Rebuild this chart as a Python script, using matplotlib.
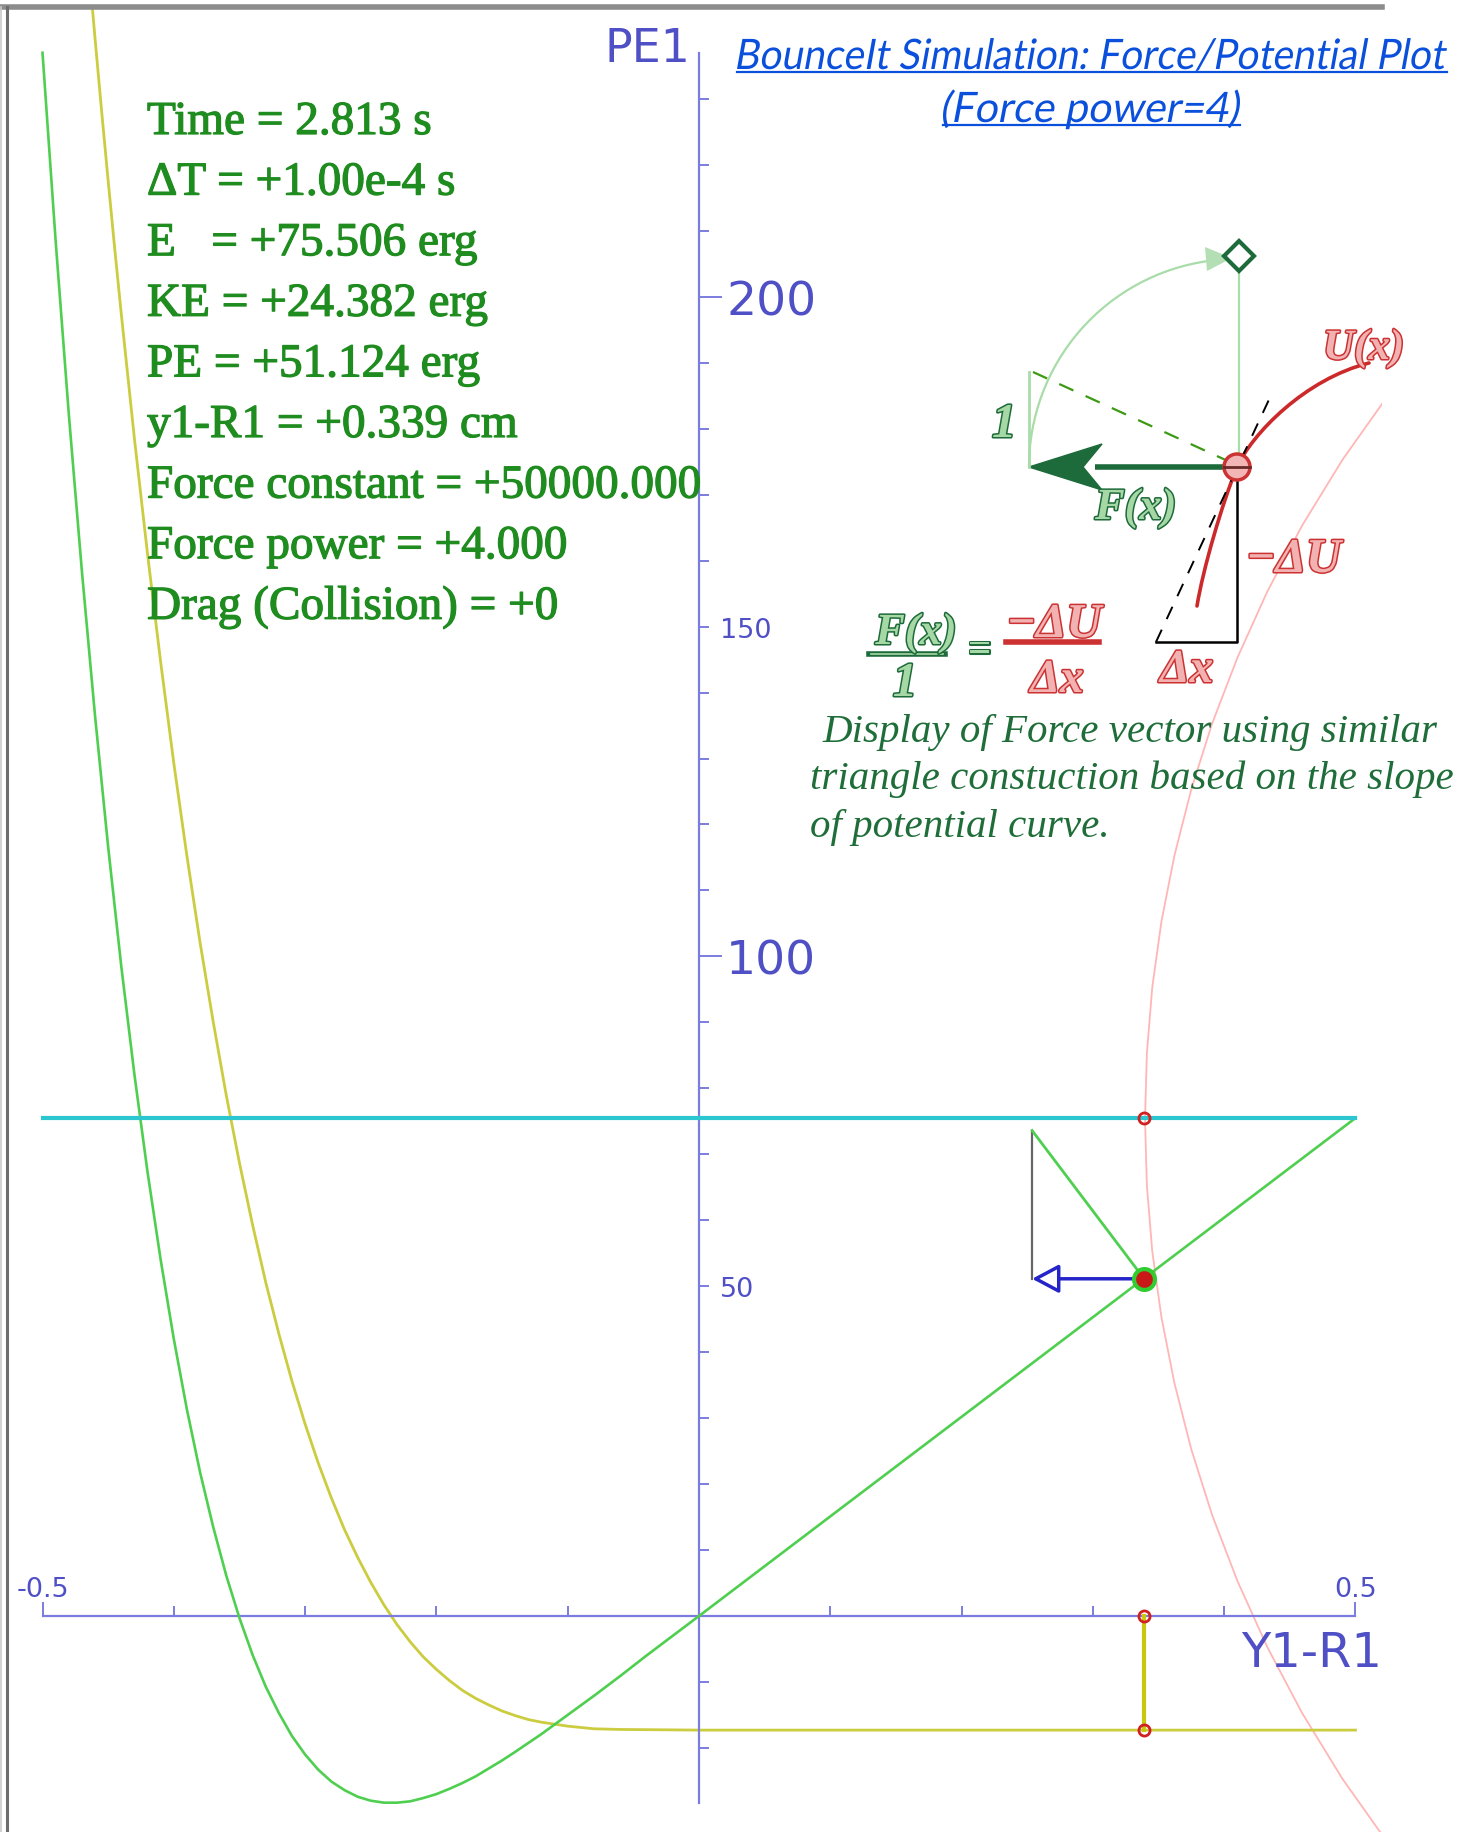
import matplotlib
matplotlib.use("Agg")
import matplotlib.pyplot as plt
import matplotlib.patheffects as pe
from matplotlib.patches import Arc, Polygon, Circle, PathPatch
from matplotlib.path import Path
from matplotlib.textpath import TextPath
from matplotlib.font_manager import FontProperties
from matplotlib.transforms import Affine2D
from matplotlib.ticker import FixedLocator, FuncFormatter

# BounceIt simulation: potential energy / force against Y1-R1

# potential energy PE1 (erg) vs Y1-R1 (cm)
pe_x = [-0.50, -0.49, -0.48, -0.47, -0.46, -0.45, -0.44, -0.43, -0.42, -0.41, -0.40,
        -0.39, -0.38, -0.37, -0.36, -0.35, -0.34, -0.33, -0.32, -0.31, -0.30,
        -0.29, -0.28, -0.27, -0.26, -0.25, -0.24, -0.23, -0.22, -0.21, -0.20,
        -0.19, -0.18, -0.17, -0.16, -0.15, -0.14, -0.12, -0.10, -0.08, -0.06,
        -0.04, -0.02, 0.0, 0.5]
pe_y = [237.0, 208.5, 182.3, 158.4, 136.5, 116.6, 98.5, 82.1, 67.3, 54.0, 42.0,
        31.3, 21.8, 13.5, 6.1, -0.3, -5.9, -10.7, -14.7, -18.2, -21.0,
        -23.3, -25.1, -26.4, -27.4, -28.0, -28.3, -28.3, -28.1, -27.6, -27.0,
        -26.2, -25.3, -24.3, -23.1, -21.9, -20.6, -17.9, -15.0, -12.1, -9.1,
        -6.0, -3.0, 0.0, 75.5]

# force curve (scaled onto the same axis)
force_x = [-0.47, -0.465, -0.46, -0.455, -0.45, -0.445, -0.44, -0.43, -0.42, -0.41, -0.40,
           -0.39, -0.38, -0.37, -0.36, -0.35, -0.34, -0.33, -0.32, -0.31, -0.30,
           -0.29, -0.28, -0.27, -0.26, -0.25, -0.24, -0.23, -0.22, -0.21, -0.20,
           -0.19, -0.18, -0.17, -0.16, -0.15, -0.14, -0.13, -0.12, -0.10, -0.08,
           -0.06, 0.0, 0.5]
force_y = [262.2, 250.5, 239.2, 228.2, 217.6, 207.3, 197.4, 178.5, 161.0, 144.6, 129.3,
           115.2, 102.1, 90.1, 78.9, 68.7, 59.3, 50.6, 42.8, 35.6, 29.1,
           23.2, 17.9, 13.1, 8.9, 5.1, 1.7, -1.3, -3.9, -6.2, -8.1,
           -9.8, -11.3, -12.5, -13.5, -14.4, -15.1, -15.7, -16.1, -16.7, -17.1,
           -17.2, -17.3, -17.3]

# outline of the ball
ball_x_pts = [0.5257, 0.4901, 0.4593, 0.4328, 0.4101, 0.3908, 0.3749, 0.3621, 0.3522,
              0.3452, 0.3411, 0.3397, 0.3411, 0.3452, 0.3522, 0.3621, 0.3749, 0.3908,
              0.4101, 0.4328, 0.4593, 0.4901, 0.5257]
ball_y_pts = [185.3, 175.3, 165.3, 155.3, 145.3, 135.3, 125.3, 115.3, 105.3,
              95.3, 85.3, 75.3, 65.3, 55.3, 45.3, 35.3, 25.3, 15.3,
              5.3, -4.7, -14.7, -24.7, -34.7]

# current state
energy = 75.506
ball_x = 0.339
ball_pe = 51.124
force_now = -17.3
arrow_tip_x = 0.2537
ref_top = 73.6

state_lines = ["Time = 2.813 s", "\u0394T = +1.00e-4 s", "E   = +75.506 erg",
               "KE = +24.382 erg", "PE = +51.124 erg", "y1-R1 = +0.339 cm",
               "Force constant = +50000.000", "Force power = +4.000",
               "Drag (Collision) = +0"]
title_lines = ["BounceIt Simulation: Force/Potential Plot", "(Force power=4)"]
caption_lines = ["Display of Force vector using similar",
                 "triangle constuction based on the slope",
                 "of potential curve."]

W, H = 1463, 1833
X0, Y0 = 699, 1617          # pixel position of the origin
SX, SY = 1313, 6.596        # pixels per unit
PX = 0.72                   # points per pixel at dpi 100

axis_col = "#7c7ce0"
lab_col = "#4f4fc6"

fig = plt.figure(figsize=(W / 100, H / 100), dpi=100)
fig.patch.set_facecolor("white")

# main data axes, clipped at the frame
ax = fig.add_axes([7 / W, 0, (1382 - 7) / W, (H - 8) / H])
ax.set_xlim((7 - X0) / SX, (1382 - X0) / SX)
ax.set_ylim((Y0 - H) / SY, (Y0 - 8) / SY)
ax.patch.set_alpha(0)

ax.spines["left"].set_visible(False)
ax.spines["bottom"].set_visible(False)
ax.spines["top"].set_position(("data", 0))
ax.spines["right"].set_position(("data", 0))
ax.spines["top"].set_bounds(-0.5, 0.5)
ax.spines["right"].set_bounds(-28.3, 237)
for s in ("top", "right"):
    ax.spines[s].set_color(axis_col)
    ax.spines[s].set_linewidth(1.6)
ax.xaxis.tick_top()
ax.yaxis.tick_right()

ax.set_xticks([-0.5, 0.5])
ax.set_xticklabels(["-0.5", "0.5"])
ax.xaxis.set_minor_locator(FixedLocator([-0.4, -0.3, -0.2, -0.1, 0.1, 0.2, 0.3, 0.4]))
ax.tick_params(axis="x", which="major", direction="out", length=14 * PX, width=1.4,
               color=axis_col, labelsize=19.5, labelcolor=lab_col, pad=0)
ax.tick_params(axis="x", which="minor", direction="out", length=10 * PX, width=1.4,
               color=axis_col)

ax.set_yticks([100, 200])
ax.yaxis.set_minor_locator(FixedLocator([v for v in range(-20, 240, 10) if v not in (100, 200)]))
ax.yaxis.set_minor_formatter(FuncFormatter(lambda v, p: "%d" % v if round(v) in (50, 150) else ""))
ax.tick_params(axis="y", which="major", direction="out", length=23 * PX, width=1.4,
               color=axis_col, labelsize=34, labelcolor=lab_col, pad=3)
ax.tick_params(axis="y", which="minor", direction="out", length=10 * PX, width=1.4,
               color=axis_col, labelsize=19.5, labelcolor=lab_col, pad=8)

# curves
ax.plot(ball_x_pts, ball_y_pts, color="#ffb6b6", lw=1.3, zorder=1)
ax.plot(force_x, force_y, color="#cccc40", lw=2.0, zorder=2)
ax.plot(pe_x, pe_y, color="#4fcf4f", lw=1.9, zorder=3)
ax.plot([-0.5, 0.5], [energy, energy], color="#2cc6d0", lw=3, zorder=3)

# force construction at the ball
ax.plot([ball_x, ball_x], [0, force_now], color="#c8c810", lw=3, zorder=4)
ax.plot([arrow_tip_x, arrow_tip_x], [ball_pe, ref_top], color="#666666", lw=1.6, zorder=4)
ax.plot([arrow_tip_x, ball_x], [ref_top, ball_pe], color="#4fcf4f", lw=2, zorder=4)
ax.annotate("", xy=(arrow_tip_x, ball_pe), xytext=(ball_x, ball_pe),
            arrowprops=dict(arrowstyle="-|>,head_length=0.75,head_width=0.4", ec="#2424c8",
                            fc="white", lw=2.5, shrinkA=0, shrinkB=0, mutation_scale=22),
            zorder=5)
ax.plot(ball_x, ball_pe, "o", ms=15, mfc="#c81818", mec="#30cc30", mew=3, zorder=6)
ax.plot([ball_x] * 3, [energy, 0, force_now], "o", ms=8, mfc="none", mec="#d02020",
        mew=2, zorder=6)

# overlay in pixel units for the text and the sketch
ov = fig.add_axes([0, 0, 1, 1])
ov.set_xlim(0, W)
ov.set_ylim(H, 0)
ov.axis("off")
ov.patch.set_alpha(0)

# frame
ov.plot([0, 1382], [8, 8], color="#8c8c8c", lw=4)
ov.plot([7, 7], [8, H], color="#6c6c6c", lw=2.2)
ov.plot([1, 1], [8, H], color="#c8c8c8", lw=1.2)

# axis names
ov.text(690, 62, "PE1", fontsize=33, color=lab_col, ha="right", va="baseline")
ov.text(1382, 1667, "Y1-R1", fontsize=34.5, color=lab_col, ha="right", va="baseline")

# state read-out
txt_col = "#1f8c1f"
for i, s in enumerate(state_lines):
    ov.text(147, 135 + i * 60.6, s, fontsize=34, family="Liberation Serif",
            color=txt_col, va="baseline",
            path_effects=[pe.Stroke(linewidth=0.9, foreground=txt_col), pe.Normal()])


# title: narrow slanted lettering fitted between left/right, then underlined
def narrow_title(s, left, right, base, em, color):
    tp = TextPath((0, 0), s, size=em, prop=FontProperties(family="Lato"))
    p = Affine2D().skew_deg(11, 0).transform_path(tp)
    ext = p.get_extents()
    sx = (right - left) / ext.width
    tr = Affine2D().translate(-ext.x0, 0).scale(sx, -1).translate(left, base)
    ov.add_patch(PathPatch(tr.transform_path(p), fc=color, ec="none"))
    ov.plot([left, right], [base + 3, base + 3], color=color, lw=1.6)


title_col = "#0a50dc"
narrow_title(title_lines[0], 737, 1447, 70, 42, title_col)
narrow_title(title_lines[1], 943, 1240, 123, 42, title_col)

# caption
for i, s in enumerate(caption_lines):
    ov.text(822 if i == 0 else 810, 742 + i * 47.5, s, fontsize=29.5, family="Liberation Serif",
            style="italic", color="#1f6e3a", va="baseline")

# similar-triangle sketch
lg = "#a8dca8"
dg = "#1d6b3a"
ov.add_patch(Arc((1237, 468), 416, 416, theta1=180, theta2=262, color=lg, lw=1.6))
ov.add_patch(Polygon([(1232, 259), (1205, 248), (1207, 272)], closed=True, fc="#b4deb4", ec="none"))
ov.plot([1239, 1239], [270, 468], color=lg, lw=1.6)
ov.plot(1239, 257, marker="D", ms=15, mfc="white", mec=dg, mew=3)
ov.plot([1029, 1029], [373, 468], color=lg, lw=2)
ov.plot([1033, 1230], [373, 463], color="#3c9a14", lw=1.6, dashes=(7, 6))

# U(x) sketch curve
u_path = Path([(1197, 607), (1203, 570), (1222, 505), (1237, 468),
               (1252, 435), (1305, 380), (1369, 364)],
              [Path.MOVETO, Path.CURVE4, Path.CURVE4, Path.CURVE4,
               Path.CURVE4, Path.CURVE4, Path.CURVE4])
ov.add_patch(PathPatch(u_path, fc="none", ec="#cc2a2a", lw=2.6, capstyle="round"))
ov.plot([1156, 1273], [643, 392], color="black", lw=1.4, dashes=(7, 6))
ov.plot([1237, 1237, 1156], [468, 643, 643], color="black", lw=1.8)

ov.plot([1095, 1232], [468, 468], color=dg, lw=4, solid_capstyle="butt")
ov.add_patch(Polygon([(1029, 468), (1102, 445), (1083, 468), (1102, 491)], closed=True,
                     fc=dg, ec=dg, lw=1))
ov.add_patch(Circle((1237, 468), 13, fc="#f2b6b6", ec="#cc3333", lw=2.5, zorder=5))
ov.plot([1224, 1250], [468, 468], color="#6a2a2a", lw=2, zorder=6)


def fancy(x, y, s, size, fill, edge, ha="left", lw=2.2):
    ov.text(x, y, s, fontsize=size, family="Liberation Serif", style="italic",
            weight="bold", color=fill, ha=ha, va="baseline",
            path_effects=[pe.Stroke(linewidth=lw, foreground=edge), pe.Normal()])


gfill, pfill, red = "#a6d8a6", "#f2b2b2", "#cc3232"
fancy(1095, 520, "F(x)", 32, gfill, dg)
fancy(992, 438, "1", 35, gfill, dg)
fancy(1323, 360, "U(x)", 31, pfill, red)
fancy(1246, 573, "\u2212\u0394U", 35, pfill, red)
fancy(1160, 683, "\u0394x", 34, pfill, red)

# equation F(x)/1 = -dU/dx
fancy(916, 645, "F(x)", 32, gfill, dg, ha="center")
ov.plot([869, 945], [655, 655], color=dg, lw=4)
ov.plot([871, 943], [655, 655], color=gfill, lw=1.2)
fancy(905, 697, "1", 35, gfill, dg, ha="center")
fancy(979, 662, "=", 30, gfill, dg, ha="center")
fancy(1054, 638, "\u2212\u0394U", 35, pfill, red, ha="center")
ov.plot([1006, 1099], [643, 643], color=red, lw=4)
fancy(1057, 693, "\u0394x", 34, pfill, red, ha="center")

fig.savefig("out.png", dpi=100)
